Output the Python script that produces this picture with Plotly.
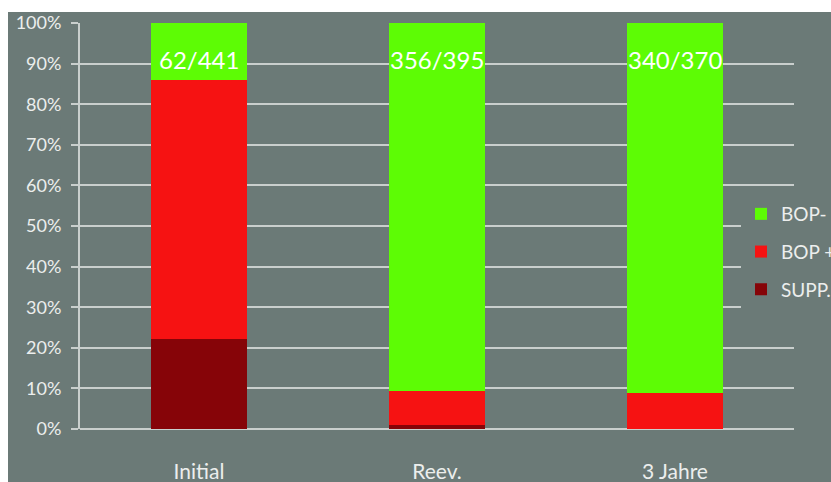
import plotly.graph_objects as go

categories = ["Initial", "Reev.", "3 Jahre"]
supp = [22.2, 0.9, 0.0]
bop_plus = [63.7, 8.5, 8.9]
bop_minus = [14.1, 90.6, 91.1]
bar_labels = ["62/441", "356/395", "340/370"]
label_level = 91

BG = "#6b7a77"
GRID = "#c9cfcd"
TXT = "#eceeed"
FONT = "Lato, Open Sans, sans-serif"

fig = go.Figure()
fig.add_bar(x=categories, y=supp, name="SUPP.", marker_color="#860408", legendgroup="a", legendrank=3)
fig.add_bar(x=categories, y=bop_plus, name="BOP +", marker_color="#f61212", legendgroup="b", legendrank=2)
fig.add_bar(x=categories, y=bop_minus, name="BOP-", marker_color="#5dfc05", legendgroup="c", legendrank=1)
for t in fig.data:
    t.marker.line.width = 0

for c, lab in zip(categories, bar_labels):
    fig.add_annotation(x=c, y=label_level, text=lab, showarrow=False,
                       font=dict(family=FONT, size=24, color="white"))

fig.update_layout(
    width=831, height=482,
    barmode="stack", bargap=0.6,
    paper_bgcolor=BG, plot_bgcolor=BG,
    margin=dict(l=80, r=37, t=23, b=53, autoexpand=False),
    showlegend=True,
    legend=dict(x=(741 - 80) / 714, xanchor="left", y=(429 - 195) / 406, yanchor="top",
                bgcolor=BG, traceorder="grouped", tracegroupgap=10,
                font=dict(family=FONT, size=19, color=TXT)),
    font=dict(family=FONT, color=TXT),
    xaxis=dict(showgrid=False, showline=False, ticks="", ticklabelstandoff=28,
               tickfont=dict(size=21, color=TXT)),
    yaxis=dict(range=[0, 100], dtick=10, ticksuffix="%", showgrid=True, gridcolor=GRID, gridwidth=2,
               zeroline=True, zerolinecolor=GRID, zerolinewidth=2,
               showline=True, linecolor=GRID, linewidth=2,
               ticks="outside", ticklen=7, tickcolor=GRID, tickwidth=2,
               ticklabelstandoff=6, tickfont=dict(size=18, color=TXT)),
    shapes=[
        dict(type="rect", xref="paper", yref="paper", x0=-1, x1=2, y0=(429 - 12) / 406, y1=1.2,
             fillcolor="white", line_width=0, layer="above"),
        dict(type="rect", xref="paper", yref="paper", x0=-0.2, x1=(8 - 80) / 714, y0=-0.2, y1=1.2,
             fillcolor="white", line_width=0, layer="above"),
    ],
)

fig.write_html("out.html")
